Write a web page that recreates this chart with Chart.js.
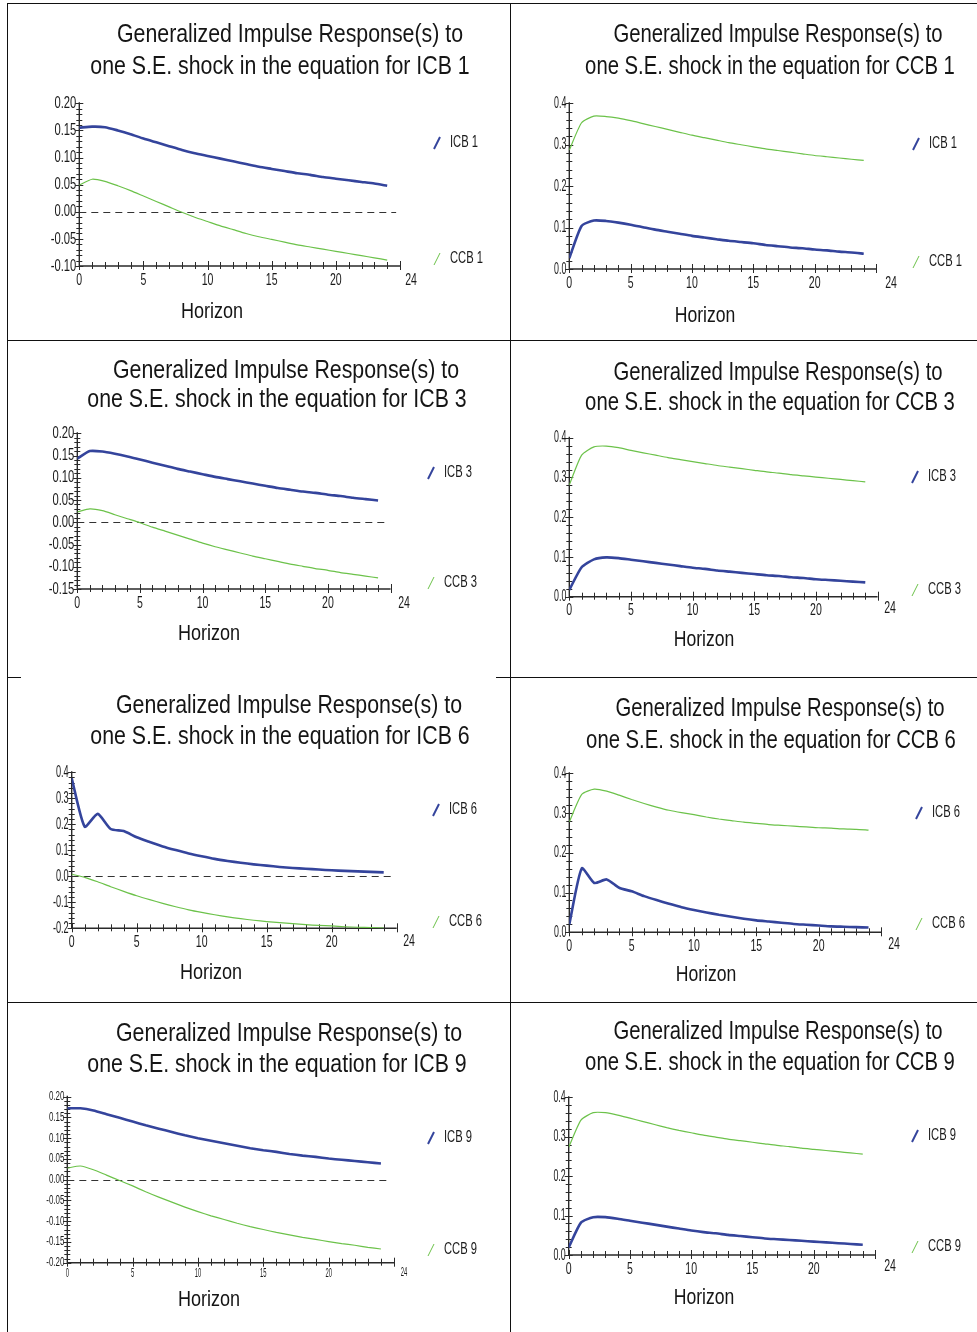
<!DOCTYPE html>
<html><head><meta charset="utf-8">
<script src="https://cdn.jsdelivr.net/npm/chart.js@4.4.0/dist/chart.umd.min.js"></script>
<style>
html,body{margin:0;padding:0;background:#fff;}
#page{position:relative;width:977px;height:1332px;overflow:hidden;background:#fff;}
.cell{position:absolute;}
.hl{position:absolute;height:1px;background:#111;}
.vl{position:absolute;width:1px;background:#111;}
</style></head><body><div id="page"></div>
<script>
// ---------- DATA ----------
const horizons = [0,1,2,3,4,5,6,7,8,9,10,11,12,13,14,15,16,17,18,19,20,21,22,23,24];
const xTickValues = [0,5,10,15,20];
const xEndLabel = '24';
const titleLine1 = 'Generalized Impulse Response(s) to';
const titlePrefix = 'one S.E. shock in the equation for ';
const xTitle = 'Horizon';
const shockNames = ['ICB 1','CCB 1','ICB 3','CCB 3','ICB 6','CCB 6','ICB 9','CCB 9'];
const icbNames = ['ICB 1','ICB 1','ICB 3','ICB 3','ICB 6','ICB 6','ICB 9','ICB 9'];
const ccbNames = ['CCB 1','CCB 1','CCB 3','CCB 3','CCB 6','CCB 6','CCB 9','CCB 9'];

const icbShockICB1 = [0.155,0.157,0.156,0.150,0.143,0.135,0.128,0.121,0.114,0.108,0.103,0.098,0.093,0.088,0.083,0.079,0.075,0.071,0.068,0.064,0.061,0.058,0.055,0.052,0.048];
const ccbShockICB1 = [0.049,0.060,0.056,0.048,0.039,0.029,0.019,0.009,-0.001,-0.010,-0.018,-0.026,-0.033,-0.040,-0.046,-0.051,-0.056,-0.061,-0.065,-0.069,-0.073,-0.077,-0.081,-0.085,-0.089];
const icbShockCCB1 = [0.026,0.104,0.117,0.116,0.112,0.107,0.101,0.095,0.090,0.085,0.080,0.076,0.072,0.068,0.065,0.062,0.058,0.055,0.052,0.050,0.047,0.045,0.042,0.040,0.037];
const ccbShockCCB1 = [0.287,0.353,0.369,0.368,0.364,0.358,0.351,0.344,0.337,0.330,0.323,0.317,0.311,0.305,0.300,0.295,0.290,0.286,0.282,0.278,0.274,0.271,0.268,0.265,0.262];
const icbShockICB3 = [0.143,0.160,0.159,0.154,0.148,0.141,0.134,0.127,0.120,0.114,0.108,0.102,0.097,0.092,0.087,0.082,0.077,0.073,0.069,0.066,0.062,0.059,0.055,0.052,0.049];
const ccbShockICB3 = [0.023,0.030,0.026,0.017,0.008,-0.001,-0.011,-0.020,-0.029,-0.038,-0.047,-0.055,-0.062,-0.069,-0.076,-0.082,-0.088,-0.094,-0.099,-0.104,-0.108,-0.113,-0.117,-0.121,-0.125];
const icbShockCCB3 = [0.017,0.074,0.094,0.099,0.097,0.093,0.089,0.085,0.081,0.077,0.073,0.070,0.066,0.063,0.060,0.057,0.054,0.052,0.049,0.047,0.044,0.042,0.040,0.038,0.036];
const ccbShockCCB3 = [0.281,0.356,0.377,0.379,0.375,0.368,0.362,0.356,0.350,0.345,0.340,0.335,0.330,0.326,0.322,0.318,0.314,0.311,0.307,0.304,0.301,0.298,0.295,0.292,0.289];
const icbShockICB6 = [0.377,0.191,0.240,0.182,0.174,0.150,0.132,0.115,0.101,0.088,0.077,0.067,0.059,0.052,0.046,0.041,0.036,0.032,0.029,0.026,0.023,0.021,0.019,0.017,0.015];
const ccbShockICB6 = [0.008,-0.004,-0.021,-0.040,-0.058,-0.075,-0.090,-0.104,-0.117,-0.129,-0.139,-0.148,-0.156,-0.163,-0.169,-0.174,-0.178,-0.182,-0.186,-0.189,-0.191,-0.194,-0.196,-0.197,-0.199];
const icbShockCCB6 = [0.020,0.161,0.124,0.133,0.112,0.103,0.091,0.081,0.072,0.063,0.056,0.050,0.044,0.039,0.034,0.030,0.027,0.024,0.021,0.019,0.017,0.015,0.014,0.013,0.012];
const ccbShockCCB6 = [0.278,0.347,0.360,0.355,0.345,0.334,0.324,0.315,0.307,0.301,0.296,0.290,0.285,0.281,0.277,0.274,0.271,0.269,0.267,0.265,0.263,0.262,0.260,0.259,0.257];
const icbShockICB9 = [0.172,0.172,0.167,0.158,0.149,0.140,0.131,0.123,0.115,0.107,0.100,0.094,0.088,0.082,0.076,0.071,0.067,0.062,0.058,0.055,0.051,0.048,0.045,0.042,0.039];
const ccbShockICB9 = [0.028,0.033,0.024,0.011,-0.002,-0.015,-0.029,-0.042,-0.054,-0.066,-0.077,-0.087,-0.096,-0.105,-0.113,-0.120,-0.127,-0.133,-0.139,-0.144,-0.149,-0.154,-0.158,-0.163,-0.167];
const icbShockCCB9 = [0.019,0.082,0.096,0.096,0.092,0.087,0.082,0.077,0.072,0.067,0.062,0.058,0.055,0.051,0.048,0.045,0.042,0.040,0.038,0.036,0.034,0.032,0.030,0.028,0.026];
const ccbShockCCB9 = [0.273,0.342,0.361,0.361,0.355,0.347,0.339,0.331,0.323,0.316,0.310,0.304,0.299,0.294,0.290,0.286,0.282,0.278,0.275,0.271,0.268,0.265,0.262,0.259,0.256];

const icbSeries = [icbShockICB1, icbShockCCB1, icbShockICB3, icbShockCCB3, icbShockICB6, icbShockCCB6, icbShockICB9, icbShockCCB9];
const ccbSeries = [ccbShockICB1, ccbShockCCB1, ccbShockICB3, ccbShockCCB3, ccbShockICB6, ccbShockCCB6, ccbShockICB9, ccbShockCCB9];

const yMins = [-0.10, 0.0, -0.15, 0.0, -0.2, 0.0, -0.20, 0.0];
const yMaxs = [0.20, 0.4, 0.20, 0.4, 0.4, 0.4, 0.20, 0.4];
const yMajorSteps = [0.05, 0.1, 0.05, 0.1, 0.1, 0.1, 0.05, 0.1];
const yDecimals = [2, 1, 2, 1, 1, 1, 2, 1];
const xMax = 25;

// ---------- LAYOUT / STYLE (page px) ----------
const FONT = "'Liberation Sans', Arimo, Arial, sans-serif";
const BLUE = '#34449c', GREEN = '#6cc24a', INK = '#151515';
const cells = [[8,4,502,337],[511,4,466,337],[8,342,502,335],[511,342,466,335],[8,678,502,324],[511,678,466,324],[8,1003,502,329],[511,1003,466,329]];
const plots = [[79.3,103.3,400,266],[569.3,103.3,876,269],[77.3,433.3,390.6,589],[569.3,437.7,877.6,596.7],[71.7,772.3,396.7,928.3],[569.3,773.3,881,932.3],[67.3,1096.7,394,1262.7],[568.7,1097.3,875,1255]];
const title1Pos = [[290,35],[778,35],[286,371],[778,373],[289,706],[780,709],[289,1034],[778,1032]];
const title2Pos = [[280,67],[770,67],[277,400],[770,403],[280,737],[771,741],[277,1065],[770,1063]];
const titleSx = [0.82,0.78,0.82,0.78,0.82,0.78,0.82,0.78];
const horizonPos = [[212,312],[705,316],[209,634],[704,640],[211,973],[706,975],[209,1300],[704,1298]];
const horizonSx = [0.82,0.8,0.82,0.8,0.82,0.8,0.82,0.8];
const legendX = [434,913,428,912,433,916,428,912];
const legendY = [[143,259],[144,262],[473,583],[477,590],[810,922],[813,924],[1138,1250],[1136,1247]];
const endLabelPos = [[411,280],[891,283],[404,603],[890,608],[409,941],[894,944],[404,1272],[890,1266]];
const yTickSize = [17,17,17,17,17,17,12,17];
const yTickSx = [0.66,0.52,0.66,0.52,0.54,0.52,0.66,0.52];
const xTickSize = [17,17,17,17,17,17,13,17];
const xTickSx = [0.62,0.62,0.62,0.62,0.62,0.62,0.45,0.62];
const xLabOff = [14,14,14,14,14,14,11,14];

// ---------- BORDERS ----------
const page = document.getElementById('page');
function addLine(cls, x, y, len) {
  const d = document.createElement('div'); d.className = cls;
  d.style.left = x + 'px'; d.style.top = y + 'px';
  if (cls === 'hl') d.style.width = len + 'px'; else d.style.height = len + 'px';
  page.appendChild(d);
}
addLine('hl', 7, 3, 970);
addLine('vl', 7, 3, 1329);
addLine('vl', 510, 3, 1329);
addLine('hl', 7, 340, 970);
addLine('hl', 7, 677, 14);
addLine('hl', 496, 677, 481);
addLine('hl', 7, 1002, 970);

function condText(ctx, txt, x, y, size, sx, align, color) {
  ctx.save();
  ctx.font = size + 'px ' + FONT;
  ctx.textAlign = align; ctx.textBaseline = 'middle';
  ctx.fillStyle = color;
  ctx.translate(x, y); ctx.scale(sx, 1);
  ctx.fillText(txt, 0, 0);
  ctx.restore();
}

// ---------- PLUGIN ----------
const decor = {
  id: 'decor',
  beforeDatasetsDraw(chart, args, o) {
    const ctx = chart.ctx, a = chart.chartArea, x = chart.scales.x, y = chart.scales.y;
    ctx.save();
    ctx.strokeStyle = '#2a2a2a';
    ctx.lineWidth = 1.4;
    ctx.beginPath();
    ctx.moveTo(a.left, a.top - 1); ctx.lineTo(a.left, a.bottom); ctx.lineTo(a.right, a.bottom);
    ctx.stroke();
    ctx.lineWidth = 1;
    ctx.beginPath();
    const minor = o.yStep / 5;
    const n = Math.round((o.yMax - o.yMin) / minor);
    for (let i = 0; i <= n; i++) {
      const py = Math.round(y.getPixelForValue(o.yMin + i * minor)) + 0.5;
      const L = (i % 5 === 0) ? 4 : 3;
      ctx.moveTo(a.left - L, py); ctx.lineTo(a.left + L, py);
    }
    for (let i = 0; i <= o.xMax; i++) {
      const px = Math.round(x.getPixelForValue(i)) + 0.5;
      const major = i % 5 === 0;
      ctx.moveTo(px, a.bottom - (major ? 5 : 4)); ctx.lineTo(px, a.bottom + (major ? 4 : 3));
    }
    ctx.stroke();
    if (o.yMin < 0) {
      const py = Math.round(y.getPixelForValue(0)) + 0.5;
      ctx.setLineDash([7, 5]);
      ctx.strokeStyle = '#333';
      ctx.beginPath();
      ctx.moveTo(a.left, py); ctx.lineTo(x.getPixelForValue(24.7), py);
      ctx.stroke();
    }
    ctx.restore();
  },
  afterDraw(chart, args, o) {
    const ctx = chart.ctx, a = chart.chartArea, ox = o.ox, oy = o.oy;
    const xs = chart.scales.x, ys = chart.scales.y;
    ys.ticks.forEach(t => condText(ctx, t.label, a.left - 3, ys.getPixelForValue(t.value), o.yTickSize, o.yTickSx, 'right', '#1a1a1a'));
    xs.ticks.forEach(t => condText(ctx, t.label, xs.getPixelForValue(t.value), a.bottom + o.xLabOff, o.xTickSize, o.xTickSx, 'center', '#1a1a1a'));
    condText(ctx, o.endLabel, o.endPos[0] - ox, o.endPos[1] - oy, o.xTickSize, o.xTickSx, 'center', '#1a1a1a');
    condText(ctx, o.t1, o.t1Pos[0] - ox, o.t1Pos[1] - oy, 26, o.titleSx, 'center', INK);
    condText(ctx, o.t2, o.t2Pos[0] - ox, o.t2Pos[1] - oy, 26, o.titleSx, 'center', INK);
    condText(ctx, o.xTitle, o.hzPos[0] - ox, o.hzPos[1] - oy, 22, o.hzSx, 'center', INK);
    const ds = chart.data.datasets;
    ctx.save();
    for (let k = 0; k < ds.length; k++) {
      const lx = o.legX - ox, ly = o.legY[k] - oy;
      ctx.strokeStyle = ds[k].borderColor;
      ctx.lineWidth = k === 0 ? 2 : 1;
      ctx.beginPath(); ctx.moveTo(lx, ly + 6); ctx.lineTo(lx + 6, ly - 6); ctx.stroke();
      condText(ctx, ds[k].label, lx + 16, ly, 16, 0.7, 'left', '#1a1a1a');
    }
    ctx.restore();
  }
};

// ---------- CHARTS ----------
for (let p = 0; p < 8; p++) {
  const [cx, cy, cw, ch] = cells[p];
  const [pl, pt, pr, pb] = plots[p];
  const div = document.createElement('div');
  div.className = 'cell';
  div.style.left = cx + 'px'; div.style.top = cy + 'px';
  div.style.width = cw + 'px'; div.style.height = ch + 'px';
  const cv = document.createElement('canvas');
  cv.width = cw; cv.height = ch;
  div.appendChild(cv);
  page.appendChild(div);
  const yW = pl - cx, xH = (cy + ch) - pb;
  const dec = yDecimals[p];
  new Chart(cv, {
    type: 'line',
    data: {
      datasets: [
        { label: icbNames[p], data: horizons.map((h, i) => ({ x: h, y: icbSeries[p][i] })), borderColor: BLUE, borderWidth: 2.6, pointRadius: 0, tension: 0.2, order: 0 },
        { label: ccbNames[p], data: horizons.map((h, i) => ({ x: h, y: ccbSeries[p][i] })), borderColor: GREEN, borderWidth: 1.2, pointRadius: 0, tension: 0.2, order: 1 }
      ]
    },
    options: {
      responsive: false, animation: false, devicePixelRatio: 1,
      layout: { padding: { left: 0, top: pt - cy, right: (cx + cw) - pr, bottom: 0 } },
      plugins: {
        legend: { display: false }, title: { display: false }, tooltip: { enabled: false },
        decor: {
          ox: cx, oy: cy, yMin: yMins[p], yMax: yMaxs[p], yStep: yMajorSteps[p], xMax: xMax,
          t1: titleLine1, t2: titlePrefix + shockNames[p], t1Pos: title1Pos[p], t2Pos: title2Pos[p],
          titleSx: titleSx[p], xTitle: xTitle, hzPos: horizonPos[p], hzSx: horizonSx[p], endLabel: xEndLabel,
          endPos: endLabelPos[p], legX: legendX[p], legY: legendY[p],
          yTickSize: yTickSize[p], yTickSx: yTickSx[p], xTickSize: xTickSize[p], xTickSx: xTickSx[p], xLabOff: xLabOff[p]
        }
      },
      scales: {
        x: {
          type: 'linear', min: 0, max: xMax,
          grid: { display: false, drawTicks: false }, border: { display: false },
          afterFit: (s) => { s.height = xH; },
          afterBuildTicks: (s) => { s.ticks = xTickValues.map(v => ({ value: v })); },
          ticks: { display: false, autoSkip: false }
        },
        y: {
          type: 'linear', min: yMins[p], max: yMaxs[p],
          grid: { display: false, drawTicks: false }, border: { display: false },
          afterFit: (s) => { s.width = yW; },
          ticks: { display: false, stepSize: yMajorSteps[p], callback: (v) => Number(v).toFixed(dec) }
        }
      }
    },
    plugins: [decor]
  });
}
</script>
</body></html>
